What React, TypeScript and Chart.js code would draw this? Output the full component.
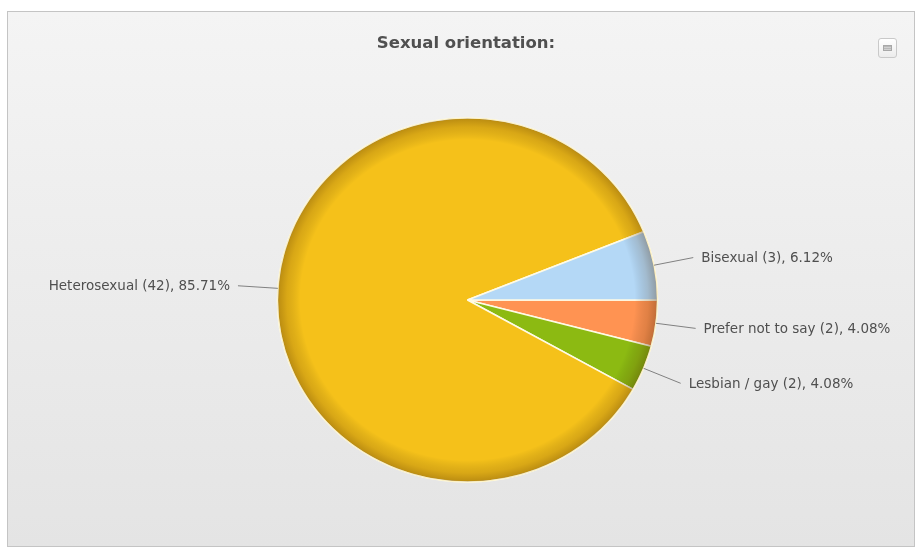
import React, { useEffect, useRef } from "react";
import { Chart, registerables } from "chart.js";

Chart.register(...registerables);

const titleText = "Sexual orientation:";
const categories = ["Prefer not to say", "Lesbian / gay", "Heterosexual", "Bisexual"];
const counts = [2, 2, 42, 3];
const percentLabels = ["4.08%", "4.08%", "85.71%", "6.12%"];
const sliceColors = ["#ff9352", "#8cba12", "#f5c11a", "#b4d8f6"];

const STRETCH = 1.044;
const FONT = '"DejaVu Sans", Verdana, sans-serif';

const stretchPlugin = {
  id: "stretchPie",
  beforeDatasetsDraw(chart: any) {
    const arc = chart.getDatasetMeta(0).data[0];
    if (!arc) return;
    const ctx = chart.ctx;
    ctx.save();
    ctx.translate(arc.x, arc.y);
    ctx.scale(STRETCH, 1);
    ctx.translate(-arc.x, -arc.y);
  },
  afterDatasetsDraw(chart: any) {
    const arc = chart.getDatasetMeta(0).data[0];
    if (!arc) return;
    const ctx = chart.ctx;
    const { x, y, outerRadius } = arc;
    const g = ctx.createRadialGradient(x, y, 0, x, y, outerRadius);
    g.addColorStop(0, "rgba(0,0,0,0)");
    g.addColorStop(0.88, "rgba(0,0,0,0)");
    g.addColorStop(0.95, "rgba(70,35,0,0.16)");
    g.addColorStop(1, "rgba(70,35,0,0.34)");
    ctx.beginPath();
    ctx.arc(x, y, outerRadius, 0, Math.PI * 2);
    ctx.fillStyle = g;
    ctx.fill();
    ctx.beginPath();
    ctx.arc(x, y, outerRadius, 0, Math.PI * 2);
    ctx.strokeStyle = "rgba(255,244,200,0.95)";
    ctx.lineWidth = 1;
    ctx.stroke();
    ctx.restore();
  },
};

const labelPlugin = {
  id: "pieLabels",
  afterDraw(chart: any) {
    const ctx = chart.ctx;
    const meta = chart.getDatasetMeta(0);
    ctx.save();
    ctx.font = `bold 16.5px ${FONT}`;
    ctx.fillStyle = "#505050";
    ctx.textAlign = "center";
    ctx.textBaseline = "middle";
    ctx.fillText(titleText, chart.width / 2 + 5, 32);
    ctx.restore();

    meta.data.forEach((arc: any, i: number) => {
      const { x, y, startAngle, endAngle, outerRadius } = arc;
      const a = (startAngle + endAngle) / 2;
      const c = Math.cos(a);
      const s = Math.sin(a);
      const x0 = x + outerRadius * STRETCH * c;
      const y0 = y + outerRadius * s;
      const x1 = x + (outerRadius * STRETCH + 40) * c;
      const y1 = y + (outerRadius + 40) * s;
      ctx.save();
      ctx.strokeStyle = "#808080";
      ctx.lineWidth = 1;
      ctx.beginPath();
      ctx.moveTo(x0, y0);
      ctx.lineTo(x1, y1);
      ctx.stroke();
      ctx.font = `13.5px ${FONT}`;
      ctx.fillStyle = "#4f4f4f";
      ctx.textBaseline = "middle";
      const right = c >= 0;
      ctx.textAlign = right ? "left" : "right";
      const text = `${categories[i]} (${counts[i]}), ${percentLabels[i]}`;
      ctx.fillText(text, right ? x1 + 8 : x1 - 8, y1 + 1);
      ctx.restore();
    });
  },
};

export default function App() {
  const canvasRef = useRef<HTMLCanvasElement | null>(null);

  useEffect(() => {
    if (!canvasRef.current) return;
    const chart = new Chart(canvasRef.current, {
      type: "pie",
      data: {
        labels: categories,
        datasets: [
          {
            data: counts,
            backgroundColor: sliceColors,
            borderColor: "#fffbe6",
            borderWidth: 1.5,
            radius: 182,
          } as any,
        ],
      },
      options: {
        animation: false,
        responsive: true,
        maintainAspectRatio: false,
        rotation: 90,
        layout: { padding: { left: 200, right: 187, top: 100, bottom: 58 } },
        plugins: {
          legend: { display: false },
          title: { display: false },
          tooltip: { enabled: false },
        },
      },
      plugins: [stretchPlugin, labelPlugin],
    });
    return () => chart.destroy();
  }, []);

  return (
    <div
      style={{
        position: "absolute",
        left: 7,
        top: 11,
        width: 908,
        height: 536,
        boxSizing: "border-box",
        border: "1px solid #c4c4c4",
        background: "linear-gradient(to bottom, #f4f4f4 0%, #ececec 50%, #e4e4e4 100%)",
        overflow: "hidden",
      }}
    >
      <div style={{ position: "absolute", left: 0, top: 0, width: 906, height: 534 }}>
        <canvas ref={canvasRef} />
      </div>
      <div
        style={{
          position: "absolute",
          left: 870,
          top: 26,
          width: 19,
          height: 20,
          boxSizing: "border-box",
          border: "1px solid #c9c9c9",
          borderRadius: 3,
          background: "linear-gradient(to bottom, #ffffff, #ececec)",
        }}
      >
        <div
          style={{
            position: "absolute",
            left: 4,
            top: 6,
            width: 9,
            height: 6,
            boxSizing: "border-box",
            border: "1px solid #a8a8a8",
            background: "repeating-linear-gradient(to bottom, #b8b8b8 0px, #b8b8b8 1px, #d0d0d0 1px, #d0d0d0 2px)",
          }}
        />
      </div>
    </div>
  );
}
